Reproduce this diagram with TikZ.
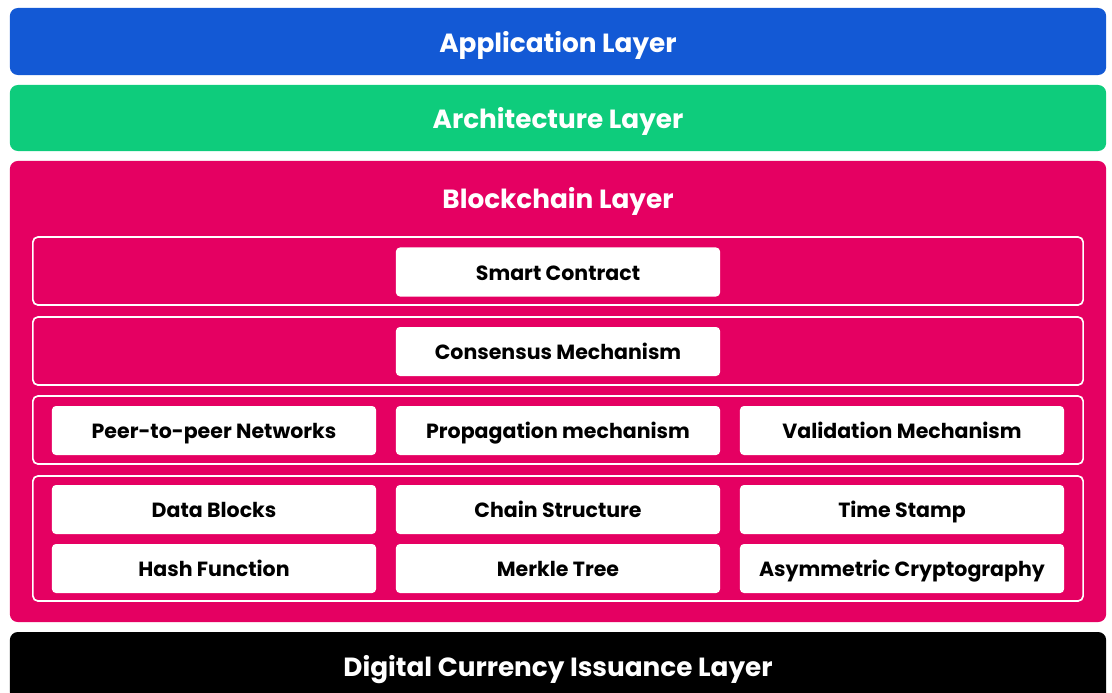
\documentclass[tikz,border=0pt]{standalone}
\usepackage{fontspec}
\setmainfont{Poppins}
\usepackage{tikz}

\definecolor{appblue}{RGB}{19,89,213}
\definecolor{archgreen}{RGB}{14,204,124}
\definecolor{chainpink}{RGB}{229,0,98}

\tikzset{
  title/.style={text=white,font=\bfseries\fontsize{18.7}{22}\selectfont,inner sep=0pt,text height=15pt,text depth=0pt},
  layer/.style={title,rectangle,rounded corners=5.7pt,minimum width=27.4cm},
  frame/.style={rectangle,draw=white,line width=1.2pt,rounded corners=3.6pt,minimum width=26.25cm,minimum height=1.7cm,inner sep=0pt},
  item/.style={rectangle,fill=white,rounded corners=2.8pt,minimum width=8.1cm,minimum height=1.225cm,font=\bfseries\fontsize{14.6}{16}\selectfont,inner sep=0pt,text height=12pt,text depth=0pt}
}

\begin{document}
\begin{tikzpicture}[x=0.025cm,y=-0.025cm]
		\useasboundingbox (0,0) rectangle (1112,692);
		\clip (0,0) rectangle (1112,692);
		%layers
		\node[layer,fill=appblue,minimum height=1.675cm] (App) at (558,41.5) {Application Layer};
		\node[layer,fill=archgreen,minimum height=1.65cm] (Arch) at (558,118) {Architecture Layer};
		\node[layer,fill=chainpink,minimum height=11.525cm] (Chain) at (558,391.5) {};
		\node[title] (ChainTitle) at (558,198) {Blockchain Layer};
		\node[layer,fill=black,minimum height=1.7cm] (Issue) at (558,666) {Digital Currency Issuance Layer};
		%frames inside the blockchain layer
		\node[frame] (Contract) at (558,271) {};
		\node[frame] (Consensus) at (558,351) {};
		\node[frame] (Network) at (558,430) {};
		\node[frame,minimum height=3.125cm] (Data) at (558,538.5) {};
		%contract and consensus
		\node[item] (Smart) at (558,272) {Smart Contract};
		\node[item] (Mech) at (558,351.5) {Consensus Mechanism};
		%network
		\node[item] (Peer) at (214,430.5) {Peer-to-peer Networks};
		\node[item] (Prop) at (558,430.5) {Propagation mechanism};
		\node[item] (Valid) at (902,430.5) {Validation Mechanism};
		%data
		\node[item] (Blocks) at (214,509.5) {Data Blocks};
		\node[item] (Struct) at (558,509.5) {Chain Structure};
		\node[item] (Stamp) at (902,509.5) {Time Stamp};
		\node[item] (Hash) at (214,568.5) {Hash Function};
		\node[item] (Merkle) at (558,568.5) {Merkle Tree};
		\node[item] (Crypto) at (902,568.5) {Asymmetric Cryptography};
	\end{tikzpicture}
\end{document}
